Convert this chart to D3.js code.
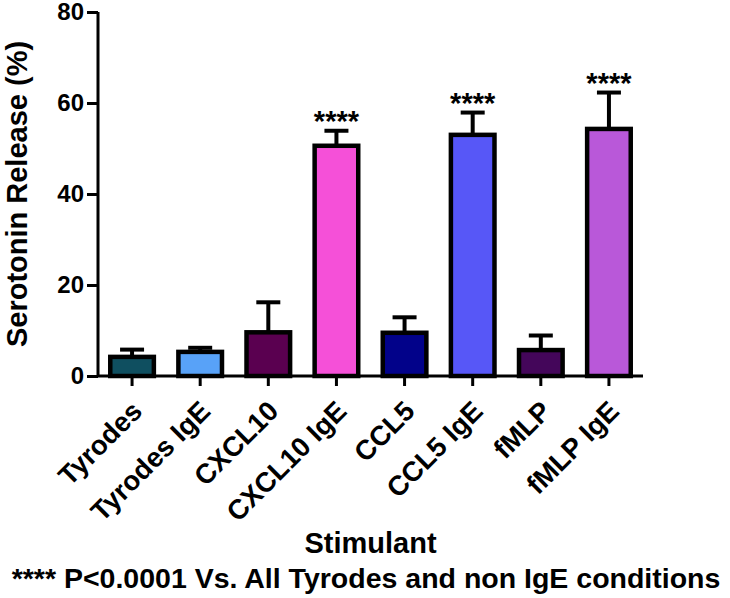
<!DOCTYPE html>
<html>
<head>
<meta charset="utf-8">
<script src="https://cdn.jsdelivr.net/npm/d3@7"></script>
<style>
  html, body { margin: 0; padding: 0; background: #fff; }
  svg { display: block; }
  text { font-family: "Liberation Sans", Arial, Helvetica, sans-serif; font-weight: bold; fill: #000; }
</style>
</head>
<body>
<svg id="chart" width="730" height="598"></svg>
<script>
// ---- data ----
const categories = ["Tyrodes", "Tyrodes IgE", "CXCL10", "CXCL10 IgE", "CCL5", "CCL5 IgE", "fMLP", "fMLP IgE"];
const means      = [4.2, 5.3, 9.6, 50.6, 9.5, 53.0, 5.7, 54.3];
const errTops    = [5.8, 6.2, 16.2, 53.9, 12.9, 57.9, 8.9, 62.3];
const colors     = ["#0f4f60", "#58a2f8", "#5a0050", "#f550d8", "#02028a", "#5757f7", "#44065a", "#b958d9"];
const significant = [false, false, false, true, false, true, false, true];
const yTicks     = [0, 20, 40, 60, 80];
const yLabel = "Serotonin Release (%)";
const xLabel = "Stimulant";
const footnote = "**** P<0.0001 Vs. All Tyrodes and non IgE conditions";
const starText = "****";

// ---- layout ----
const svg = d3.select("#chart");
const x0 = 98, x1 = 643, yBottom = 376, yTop = 12;

const x = d3.scaleBand().domain(categories).range([x0, x1]).paddingInner(0.36).paddingOuter(0.18);
const y = d3.scaleLinear().domain([0, 80]).range([yBottom, yTop]);

const rows = categories.map((c, i) => ({c, v: means[i], e: errTops[i], col: colors[i], sig: significant[i]}));

// error bars (drawn first so bar outline covers the base)
const eb = svg.append("g").attr("stroke", "#000").attr("stroke-width", 4);
rows.forEach(d => {
  const cx = x(d.c) + x.bandwidth() / 2;
  eb.append("line").attr("x1", cx).attr("x2", cx).attr("y1", y(d.v)).attr("y2", y(d.e));
  eb.append("line").attr("x1", cx - 12).attr("x2", cx + 12).attr("y1", y(d.e)).attr("y2", y(d.e));
});

// bars
svg.append("g").selectAll("rect").data(rows).join("rect")
  .attr("x", d => x(d.c))
  .attr("width", x.bandwidth())
  .attr("y", d => y(d.v))
  .attr("height", d => y(0) - y(d.v))
  .attr("fill", d => d.col)
  .attr("stroke", "#000")
  .attr("stroke-width", 4.5)
  .attr("stroke-linejoin", "miter");

// significance stars
svg.append("g").selectAll("text").data(rows.filter(d => d.sig)).join("text")
  .attr("x", d => x(d.c) + x.bandwidth() / 2)
  .attr("y", d => y(d.e))
  .attr("text-anchor", "middle")
  .style("font-size", "29px")
  .text(starText);

// y axis
const yAxis = svg.append("g").attr("transform", `translate(${x0},0)`)
  .call(d3.axisLeft(y).tickValues(yTicks).tickSize(11).tickPadding(3).tickFormat(d3.format("d")));
yAxis.select(".domain").attr("stroke", "#000").attr("stroke-width", 3).attr("d", `M0,${yTop}V${yBottom}`);
yAxis.selectAll(".tick line").attr("stroke", "#000").attr("stroke-width", 3);
yAxis.selectAll(".tick text").style("font-size", "24px").style("font-family", "Liberation Sans, Arial, sans-serif").style("font-weight", "bold").attr("fill", "#000");

// x axis
const xAxis = svg.append("g").attr("transform", `translate(0,${yBottom})`)
  .call(d3.axisBottom(x).tickSize(10).tickFormat(""));
xAxis.select(".domain").attr("stroke", "#000").attr("stroke-width", 3).attr("d", `M${x0},0H${x1}`);
xAxis.selectAll(".tick line").attr("stroke", "#000").attr("stroke-width", 3);

// rotated category labels
svg.append("g").selectAll("text").data(categories).join("text")
  .attr("transform", d => `translate(${x(d) + x.bandwidth() / 2 + 5},${yBottom + 30}) rotate(-45)`)
  .attr("text-anchor", "end")
  .attr("dy", "0.35em")
  .style("font-size", "27.5px")
  .text(d => d);

// axis titles
svg.append("text")
  .attr("transform", `translate(27,${(yTop + yBottom) / 2}) rotate(-90)`)
  .attr("text-anchor", "middle")
  .style("font-size", "29px")
  .text(yLabel);

svg.append("text")
  .attr("x", (x0 + x1) / 2).attr("y", 553)
  .attr("text-anchor", "middle")
  .style("font-size", "29px")
  .text(xLabel);

svg.append("text")
  .attr("x", 366).attr("y", 588)
  .attr("text-anchor", "middle")
  .style("font-size", "28.5px")
  .text(footnote);
</script>
</body>
</html>
